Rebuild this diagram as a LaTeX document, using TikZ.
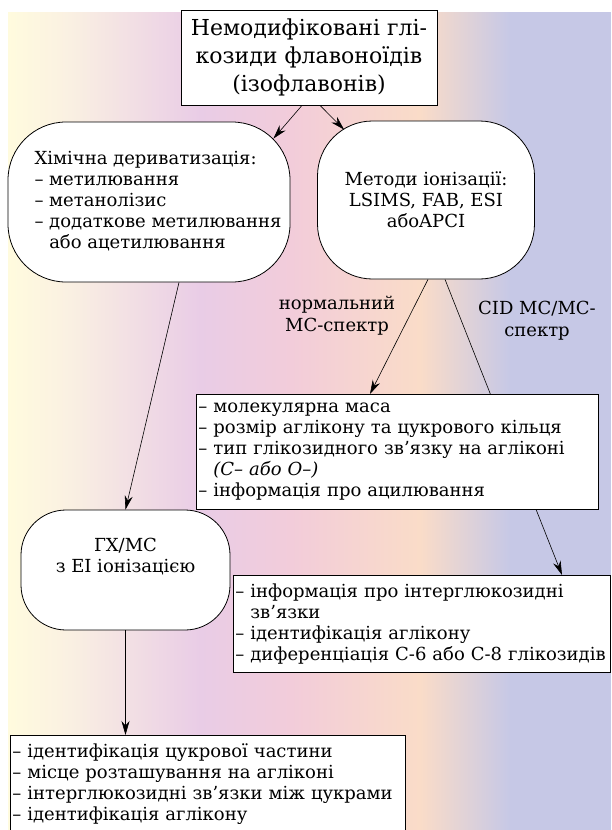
\documentclass[tikz,border=0pt]{standalone}
\usepackage{fontspec}
\setmainfont{DejaVu Serif}
\usepackage{tikz}
\usetikzlibrary{calc, positioning, arrows.meta}
\pgfdeclarelayer{background}
\pgfsetlayers{background,main}
\definecolor{bgyellow}{RGB}{255,251,222}
\definecolor{bgcream}{RGB}{250,240,226}
\definecolor{bgpink}{RGB}{233,204,230}
\definecolor{bgrose}{RGB}{242,204,218}
\definecolor{bgpeach}{RGB}{250,220,200}
\definecolor{bgblue}{RGB}{198,200,230}
\newcommand\bgband[4]{\shade[left color=#3, right color=#4] (#1,12) rectangle (#2,830);}
\tikzset{
  topbox/.style={draw, fill=white, line width=0.8pt, align=center, minimum width=256pt, minimum height=95pt, font=\fontsize{22}{28}\selectfont},
  blob/.style={draw, fill=white, line width=0.8pt, align=center, inner sep=0pt, font=\fontsize{18}{21}\selectfont},
  infobox/.style={draw, fill=white, line width=0.8pt, inner sep=2pt, align=left, anchor=north west, font=\fontsize{18}{21}\selectfont},
  sidenote/.style={align=center, font=\fontsize{18}{22}\selectfont},
  link/.style={line width=0.6pt, -{Stealth[length=14pt,width=8pt]}}
}

\begin{document}
\begin{tikzpicture}[x=1pt, y=-1pt]
\useasboundingbox (0,0) rectangle (611,830);
\begin{pgfonlayer}{background}
\fill[white] (0,0) rectangle (611,830);
\bgband{8}{70.5}{bgyellow}{bgcream}
\bgband{70}{200.5}{bgcream}{bgpink}
\bgband{200}{290.5}{bgpink}{bgrose}
\bgband{290}{420.5}{bgrose}{bgpeach}
\bgband{420}{510.5}{bgpeach}{bgblue}
\fill[bgblue] (510,12) rectangle (611,830);
\end{pgfonlayer}

\node[topbox] (flav) at (309,57.5) {Немодифіковані глі-\\козиди флавоноїдів\\(ізофлавонів)};
\node[blob, rounded corners=58pt, minimum width=282pt, minimum height=160pt] (deriv) at (149,202) {\begin{tabular}{@{\hspace{18pt}}l@{}}Хімічна дериватизація:\\– метилювання\\– метанолізис\\– додаткове метилювання\\\hphantom{– }або ацетилювання\end{tabular}};
\node[blob, rounded corners=55pt, minimum width=217pt, minimum height=158pt] (ion) at (426,200) {Методи іонізації:\\LSIMS, FAB, ESI\\абоAPCI};
\node[blob, rounded corners=45pt, minimum width=209pt, minimum height=120pt] (gcms) at (125.5,570) {ГХ/МС\\з ЕІ іонізацією\\[8pt]};
\node[sidenote] (normlbl) at (337,316) {нормальний\\МС-спектр};
\node[sidenote] (cidlbl) at (537,321) {CID МС/МС-\\спектр};
\node[infobox, text width=398pt, minimum height=115pt] (mass) at (196,394) {– молекулярна маса\\– розмір аглікону та цукрового кільця\\– тип глікозидного зв’язку на агліконі\\\hphantom{– }\textit{(С– або О–)}\\– інформація про ацилювання};
\node[infobox, text width=373pt, minimum height=97pt] (links) at (233,575) {– інформація про інтерглюкозидні\\\hphantom{– }зв’язки\\– ідентифікація аглікону\\– диференціація С-6 або С-8 глікозидів};
\node[infobox, text width=391pt, minimum height=98pt] (sugar) at (10,735) {– ідентифікація цукрової частини\\– місце розташування на агліконі\\– інтерглюкозидні зв’язки між цукрами\\– ідентифікація аглікону};

\draw[link] ($(flav.south)+(-7,0)$) -- ($(deriv.north east)+(-17,17)$);
\draw[link] ($(flav.south)+(11,0)$) -- ($(ion.north west)+(27,9)$);
\draw[link] ($(deriv.south)+(30,0)$) -- (gcms.north);
\draw[link] ($(ion.south)+(2,0)$) -- ($(mass.north west)+(174,0)$);
\begin{pgfonlayer}{background}
\draw[link] ($(ion.south)+(19,0)$) -- ($(links.north west)+(329,0)$);
\end{pgfonlayer}
\draw[link] (gcms.south) -- (gcms.south |- sugar.north);
\end{tikzpicture}
\end{document}
